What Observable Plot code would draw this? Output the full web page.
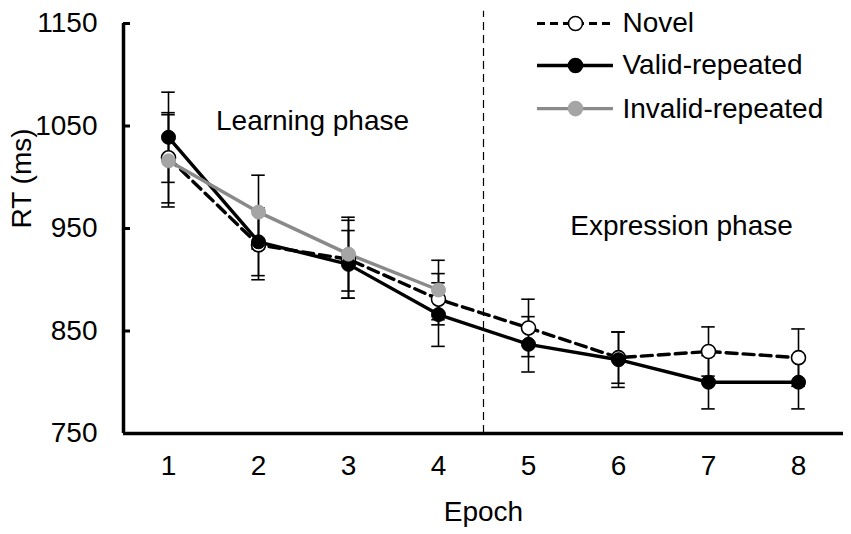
<!DOCTYPE html>
<html>
<head>
<meta charset="utf-8">
<script src="https://cdn.jsdelivr.net/npm/d3@7"></script>
<script src="https://cdn.jsdelivr.net/npm/@observablehq/plot@0.6"></script>
<style>
  html, body { margin: 0; padding: 0; background: #fff; }
</style>
</head>
<body>
<div id="chart"></div>
<script>
const epochs = [1, 2, 3, 4, 5, 6, 7, 8];
const novel = [1019, 934, 920, 881, 853, 824, 830, 824];
const novelErr = [44, 34, 38, 25, 28, 25, 24, 28];
const valid = [1039, 937, 915, 866, 837, 822, 800, 800];
const validErr = [44, 33, 33, 31, 27, 27, 26, 26];
const invalidEpochs = [1, 2, 3, 4];
const invalid = [1016, 966, 925, 890];
const invalidErr = [45, 36, 36, 29];
const yTicks = [750, 850, 950, 1050, 1150];
const xTicks = [1, 2, 3, 4, 5, 6, 7, 8];
const seriesNames = ["Novel", "Valid-repeated", "Invalid-repeated"];
const phaseLabels = ["Learning phase", "Expression phase"];

const GRAY_LINE = "#8a8a8a";
const GRAY_DOT = "#a5a5a5";
const FS = 28;

const mk = (xs, ys, es) => xs.map((x, i) => ({x, y: ys[i], e: es[i]}));
const novelData = mk(epochs, novel, novelErr);
const validData = mk(epochs, valid, validErr);
const invalidData = mk(invalidEpochs, invalid, invalidErr);

const capHalf = 0.075;
const errorMarks = (data) => [
  Plot.ruleX(data, {x: "x", y1: d => d.y - d.e, y2: d => d.y + d.e, stroke: "black", strokeWidth: 1.6}),
  Plot.ruleY(data, {y: d => d.y + d.e, x1: d => d.x - capHalf, x2: d => d.x + capHalf, stroke: "black", strokeWidth: 1.6}),
  Plot.ruleY(data, {y: d => d.y - d.e, x1: d => d.x - capHalf, x2: d => d.x + capHalf, stroke: "black", strokeWidth: 1.6})
];

// legend rows (data-space anchors)
const legendRows = [
  {name: seriesNames[0], y: 1150, stroke: "black", fill: "white", dotStroke: "black"},
  {name: seriesNames[1], y: 1109, stroke: "black", fill: "black", dotStroke: "black"},
  {name: seriesNames[2], y: 1067, stroke: GRAY_LINE, fill: GRAY_DOT, dotStroke: GRAY_DOT}
];
const lx1 = 5.1, lx2 = 5.944, ldot = 5.522, ltext = 6.044;

const chart = Plot.plot({
  width: 851,
  height: 534,
  marginLeft: 123,
  marginRight: 8,
  marginTop: 23,
  marginBottom: 101,
  style: {fontFamily: "Arial, 'Liberation Sans', sans-serif", fontSize: FS + "px", color: "black", background: "white"},
  x: {domain: [0.5, 8.5], axis: null},
  y: {domain: [750, 1150], axis: null},
  marks: [
    // phase divider
    Plot.ruleX([4.5], {y1: 750, y2: 1162, stroke: "black", strokeWidth: 1.2, strokeDasharray: "8,5"}),
    // error bars
    ...errorMarks(novelData),
    ...errorMarks(validData),
    ...errorMarks(invalidData),
    // lines
    Plot.line(novelData, {x: "x", y: "y", stroke: "black", strokeWidth: 3.4, strokeDasharray: "11,6"}),
    Plot.line(validData, {x: "x", y: "y", stroke: "black", strokeWidth: 3.4}),
    Plot.line(invalidData, {x: "x", y: "y", stroke: GRAY_LINE, strokeWidth: 3.4}),
    // dots
    Plot.dot(novelData, {x: "x", y: "y", r: 7, fill: "white", stroke: "black", strokeWidth: 1.6}),
    Plot.dot(validData, {x: "x", y: "y", r: 7, fill: "black", stroke: "black", strokeWidth: 1}),
    Plot.dot(invalidData, {x: "x", y: "y", r: 7, fill: GRAY_DOT, stroke: GRAY_DOT, strokeWidth: 1}),
    // axes
    Plot.ruleX([0.5], {y1: 750, y2: 1150, stroke: "black", strokeWidth: 3.5}),
    Plot.ruleY([750], {x1: 0.5, x2: 8.5, stroke: "black", strokeWidth: 3.5}),
    Plot.ruleY(yTicks, {x1: 0.5, x2: 0.5 + 7 / 90, stroke: "black", strokeWidth: 3}),
    Plot.text(yTicks, {x: 0.5, y: d => d, text: d => String(d), textAnchor: "end", dx: -26, fontSize: FS}),
    Plot.text(xTicks, {x: d => d, y: 750, text: d => String(d), lineAnchor: "top", dy: 22, fontSize: FS}),
    // axis labels
    Plot.text(["Epoch"], {frameAnchor: "bottom", text: d => d, lineAnchor: "middle", dy: 79, fontSize: FS}),
    Plot.text(["RT (ms)"], {frameAnchor: "left", text: d => d, rotate: -90, dx: -101, fontSize: FS}),
    // phase labels
    Plot.text([phaseLabels[0]], {x: 2.6, y: 1055, text: d => d, fontSize: FS}),
    Plot.text([phaseLabels[1]], {x: 6.7, y: 952, text: d => d, fontSize: FS}),
    // legend
    Plot.ruleY(legendRows.slice(0, 1), {y: "y", x1: lx1, x2: lx2, stroke: "stroke", strokeWidth: 3.2, strokeDasharray: "8,5"}),
    Plot.ruleY(legendRows.slice(1), {y: "y", x1: lx1, x2: lx2, stroke: "stroke", strokeWidth: 3.4}),
    Plot.dot(legendRows, {x: ldot, y: "y", r: 7, fill: "fill", stroke: "dotStroke", strokeWidth: 1.6}),
    Plot.text(legendRows, {x: ltext, y: "y", text: "name", textAnchor: "start", fontSize: FS})
  ]
});
document.getElementById("chart").appendChild(chart);
</script>
</body>
</html>
